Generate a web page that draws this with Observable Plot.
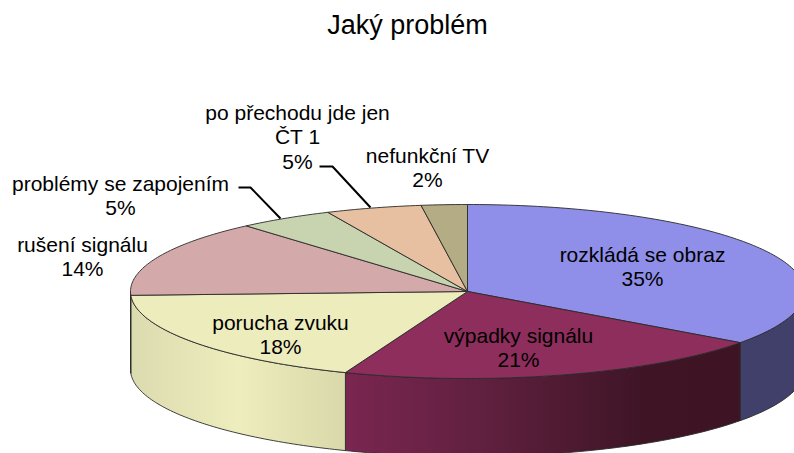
<!DOCTYPE html>
<html>
<head>
<meta charset="utf-8">
<style>html,body{margin:0;padding:0;background:#fff;overflow:hidden}svg{display:block}</style>
<script src="https://cdn.jsdelivr.net/npm/d3@7"></script>
<script src="https://cdn.jsdelivr.net/npm/@observablehq/plot@0.6"></script>
</head>
<body>
<div id="chart"></div>
<script>
const title = "Jaký problém";
const categories = ["rozkládá se obraz", "výpadky signálu", "porucha zvuku", "rušení signálu", "problémy se zapojením", "po přechodu jde jen\nČT 1", "nefunkční TV"];
const shares = [35, 20.9, 18.4, 14.3, 4.6, 4.6, 2.2];
const topColors = ["#8f8fe9", "#8d2e5c", "#edecbc", "#d3a9a9", "#c8d3af", "#e6c0a0", "#b3ac85"];
const wallFills = ["#40406a", "url(#wallMaroon)", "url(#wallYellow)", "#a88888", "#a0a88c", "#b89a80", "#8f896a"];
const labelX = [642, 518, 280, 82, 120, 297, 427];
const labelY = [266, 347, 334, 256, 195, 136, 167];
const leaders = [
  {id: 4, path: [[238, 187], [250, 187], [280, 218]]},
  {id: 5, path: [[319, 166], [332, 166], [370, 207]]}
];

const W = 794, H = 453;
const pie = {cx: 467, cy: 291, rx: 337, ry: 87, depth: 78};
const toPoint = (deg, dy = 0) => {
  const t = deg * Math.PI / 180;
  return {x: pie.cx + pie.rx * Math.sin(t), y: pie.cy - pie.ry * Math.cos(t) + dy};
};
const arc = (a, b, dy = 0) => {
  const n = Math.max(2, Math.ceil(Math.abs(b - a)));
  return d3.range(n + 1).map(i => toPoint(a + (b - a) * i / n, dy));
};
let cum = 0;
const slices = shares.map((v, i) => {
  const a0 = cum / 100 * 360; cum += v;
  return {i, a0, a1: cum / 100 * 360};
});
const tops = slices.map(s => {
  const c = {x: pie.cx, y: pie.cy};
  return {i: s.i, pts: [c, ...arc(s.a0, s.a1), c]};
});
const walls = slices.filter(s => s.a1 > 90 && s.a0 < 270).map(s => {
  const a = Math.max(s.a0, 90), b = Math.min(s.a1, 270);
  const t = arc(a, b), u = arc(b, a, pie.depth);
  return {i: s.i, pts: [...t, ...u, t[0]]};
});

const defs = () => {
  const d = d3.create("svg:defs");
  const grad = (id, stops) => {
    const g = d.append("linearGradient").attr("id", id).attr("x1", 0).attr("x2", 1).attr("y1", 0).attr("y2", 0);
    stops.forEach(([o, c]) => g.append("stop").attr("offset", o).attr("stop-color", c));
  };
  grad("wallYellow", [[0, "#dbdbb0"], [0.5, "#ededbd"], [1, "#d8d8aa"]]);
  grad("wallMaroon", [[0, "#7a2650"], [0.35, "#60203f"], [0.75, "#3f1526"], [1, "#3e1425"]]);
  return d.node();
};

const line = (pts, fill, stroke, strokeWidth) => Plot.line(pts, {x: "x", y: "y", fill, stroke, strokeWidth, clip: true});

const labels = categories.map((c, i) => ({
  text: `${c}\n${Math.round(shares[i])}%`, x: labelX[i], y: labelY[i]
}));

const chart = Plot.plot({
  width: W, height: H,
  margin: 0,
  x: {domain: [0, W], range: [0, W], axis: null},
  y: {domain: [0, H], range: [0, H], axis: null},
  style: {background: "#fff", fontFamily: "'Liberation Sans', Arial, sans-serif"},
  marks: [
    defs,
    ...walls.map(w => line(w.pts, wallFills[w.i], "#2a2a2a", 0.9)),
    ...tops.map(t => line(t.pts, topColors[t.i], "#2a2a2a", 0.9)),
    ...leaders.map(l => Plot.line(l.path.map(([x, y]) => ({x, y})), {x: "x", y: "y", stroke: "#000", strokeWidth: 2, strokeLinejoin: "miter", strokeLinecap: "butt"})),
    Plot.text(labels, {x: "x", y: "y", text: "text", fontSize: 21, lineHeight: 1.16, fill: "#000", textAnchor: "middle", lineAnchor: "middle"}),
    Plot.text([{x: 407, y: 25}], {x: "x", y: "y", text: () => title, fontSize: 27, fill: "#000", textAnchor: "middle", lineAnchor: "middle"})
  ]
});
document.getElementById("chart").append(chart);
</script>
</body>
</html>
